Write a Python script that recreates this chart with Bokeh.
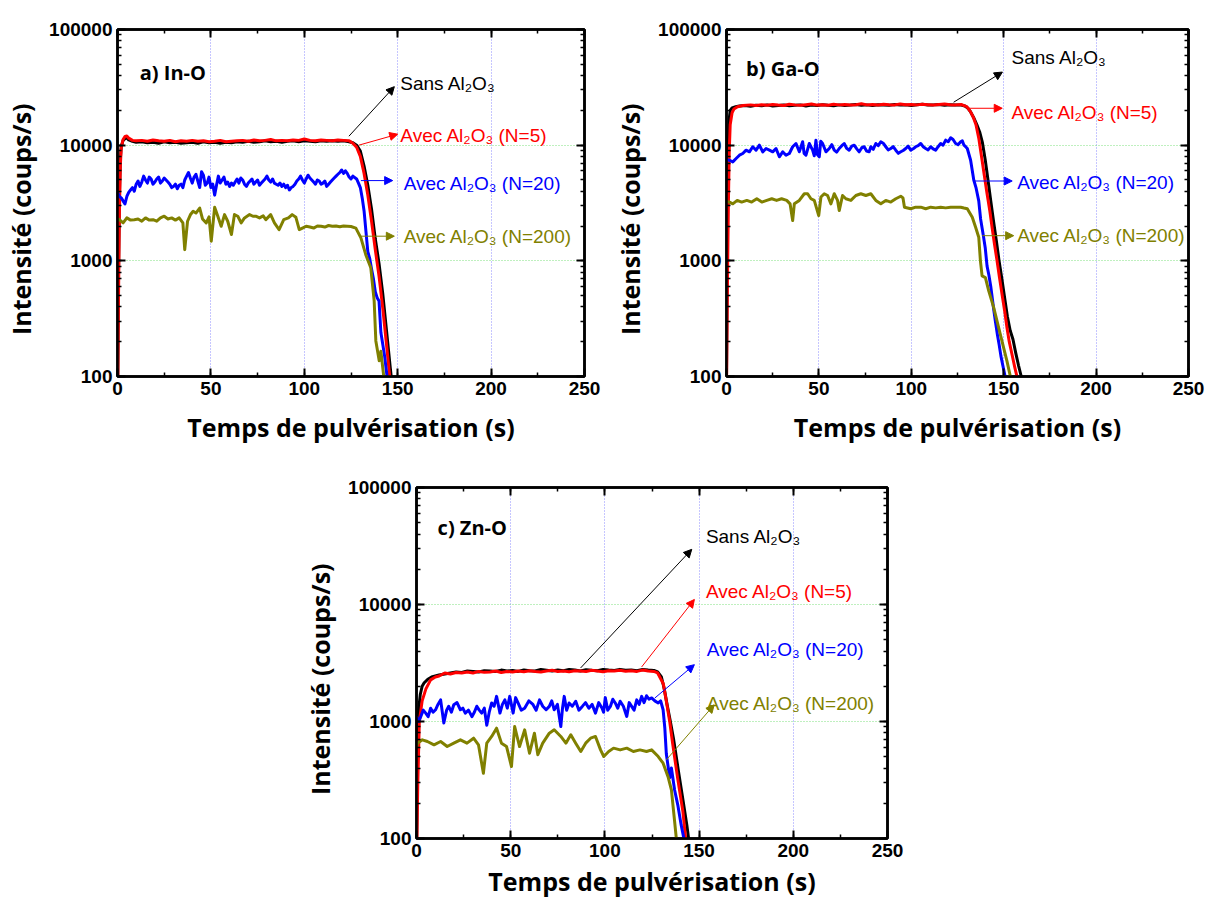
from bokeh.plotting import figure
from bokeh.models import (LogAxis, LinearAxis, SingleIntervalTicker, LogTicker, FixedTicker,
                          PrintfTickFormatter, Label, Arrow, NormalHead, Spacer)
from bokeh.layouts import column, row
from bokeh.embed import file_html
from bokeh.resources import INLINE

# ---------------- data : panel a) In-O ----------------
A_T_PLAT = [0, 0.5, 1, 1.5, 2, 3, 4, 5, 6, 8, 10,
            13, 16, 19, 22, 25, 28, 31, 34, 37, 40, 43, 46, 49, 52, 55, 58, 61, 64, 67, 70,
            73, 76, 79, 82, 85, 88, 91, 94, 97, 100, 103, 106, 109, 112, 115, 118, 121, 124,
            126, 128, 130, 132, 134, 136, 138, 140, 142, 144, 146, 148]
A_SANS = [40, 700, 3500, 7500, 9800, 11000, 11400, 11600, 11100, 10800, 10600,
          10700, 10500, 10600, 10400, 10700, 10500, 10600, 10400, 10500, 10600, 10400, 10700,
          10500, 10600, 10400, 10600, 10500, 10700, 10600, 10800, 10600, 10700, 10900, 10700,
          10800, 10600, 10800, 10900, 10700, 10900, 10800, 10700, 10900, 10800, 10900, 10800,
          10900, 10700,
          10500, 10000, 8900, 6600, 4500, 2800, 1550, 950, 520, 250, 120, 60]
A_N5 = [40, 400, 2500, 6500, 9500, 11200, 11900, 12000, 11500, 11000, 10900,
        11000, 10800, 11100, 10900, 10800, 11000, 10700, 10900, 10800, 11000, 10800, 10900,
        10700, 10800, 11000, 10700, 10800, 10900, 11000, 10800, 11100, 10900, 11000, 11200,
        10900, 11000, 10900, 11100, 11000, 11300, 11000, 10900, 11100, 11000, 10900, 11100,
        11000, 10900,
        10400, 9600, 8000, 5700, 3700, 2200, 1250, 740, 390, 190, 90, 45]
A_T_N20 = [0, 1, 2, 3, 4, 5, 6, 7, 8, 9, 10, 11, 12, 13, 14, 15, 16, 17, 18, 19, 20, 21, 22,
           23, 24, 25, 26, 27, 28, 29, 30, 31, 32, 33, 34, 35, 36, 37, 38, 39, 40, 41, 42, 43,
           44, 45, 46, 47, 48, 49, 50, 51, 52, 53, 54, 55, 56, 57, 58, 59, 60, 61, 62, 63, 64,
           65, 66, 67, 68, 69, 70, 71, 72, 73, 74, 75, 76, 77, 78, 79, 80, 81, 82, 83, 84, 85,
           86, 87, 88, 89, 90, 91, 92, 93, 94, 95, 96, 97, 98, 99, 100, 101, 102, 103, 104,
           105, 106, 107, 108, 109, 110, 111, 112, 113, 114, 115, 116, 117, 118, 119, 120, 121,
           122, 123, 124, 125, 126,
           128, 129, 130, 131, 132, 133, 134, 135, 136, 137, 138, 139, 140, 141, 142, 143, 144, 145]
A_N20 = [3900, 3600, 3500, 3300, 3100, 3600, 3900, 4100, 4300, 4000,
         4600, 4900, 4400, 4800, 5400, 5000, 4700, 5300, 5100, 4600,
         4800, 5100, 5300, 4700, 4900, 5200, 5000, 4800, 4600, 4300,
         4400, 4600, 4200, 4500, 4600, 4300, 5000, 5400, 5800, 5200,
         4700, 5300, 5600, 4900, 4300, 5900, 5500, 4500, 4700, 5300,
         4300, 4600, 3700, 4500, 5400, 4700, 5000, 5300, 4600, 4800,
         4400, 4700, 4500, 4800, 5100, 4700, 5200, 5000, 4600, 4400,
         4700, 4900, 5100, 4600, 4800, 5000, 4500, 4700, 4900, 5100,
         5400, 5000, 4800, 5100, 4700, 4600, 4500, 4700, 4400, 4600,
         4300, 4500, 4100, 4300, 4400, 4600, 4900, 5100, 5400, 5000,
         4700, 5100, 5500, 5200, 5000, 4800, 4600, 5000, 4900, 4600,
         4700, 4900, 4400, 4600, 4800, 5000, 5200, 5400, 5600, 5800,
         6100, 5700, 6000, 5700, 5300, 5100, 5400,
         5100, 4700, 4300, 3500, 2700, 1800, 1200, 1050, 850, 700, 540, 480, 450, 240, 190,
         150, 110, 80]
A_T_N200 = [0, 1, 3, 5, 7, 9, 11, 13, 15, 17, 19, 21, 23, 25, 27, 29, 31, 33, 35, 36,
            37.5, 39, 40.5, 42, 44, 45.5, 47.5, 49, 50.2, 52, 53.7, 55.5, 57.3, 59, 61, 62.6,
            64.4, 66.2, 68, 70.7, 72.5, 74, 76, 78, 79.4, 82, 84, 86.5, 89, 91.5, 93.5, 95.5,
            97.3, 99, 101, 103, 105, 107, 109, 111, 113, 115, 117, 119, 121, 123, 125, 127.6,
            130.3, 132.9, 135.6, 137.4, 138.3, 140.1, 141, 142.7]
A_N200 = [2300, 2270, 2130, 2350, 2250, 2270, 2300, 2200, 2350, 2250, 2270, 2200, 2350, 2430,
          2300, 2350, 2250, 2350, 2130, 1250, 2200, 2500, 2680, 2590, 2860, 2300, 2130, 2400,
          1480, 2900, 2430, 1990, 2510, 2200, 1690, 2510, 2430, 2130, 2350, 2510, 2430, 2430,
          2350, 2450, 2270, 2510, 2130, 1860, 2270, 2350, 2510, 2380, 1860, 1920, 1990, 1960,
          1920, 2000, 1990, 1960, 2020, 1990, 2000, 1970, 2000, 1990, 1980, 1920, 1580, 1130,
          870, 450, 203, 137, 165, 95]

# ---------------- data : panel b) Ga-O ----------------
B_T_SANS = [0, 0.5, 1, 1.5, 2, 3, 5, 7, 10,
            13, 16, 19, 22, 25, 28, 31, 34, 37, 40, 43, 46, 49, 52, 55, 58, 61, 64, 67, 70,
            73, 76, 79, 82, 85, 88, 91, 94, 97, 100, 103, 106, 109, 112, 115, 118, 121, 124, 127,
            129, 130.5, 132, 134, 135.5, 137, 138.5, 140, 141.5, 143, 144.5, 146, 147.5, 149,
            150.5, 152, 153.5, 155, 156.5, 158, 159.5, 160.5]
B_SANS = [90, 2500, 10000, 17000, 20000, 21000, 21500, 21800, 22000,
          21700, 22100, 21900, 22300, 21800, 22000, 22200, 21900, 22100, 22300, 21800, 22200,
          22000, 22400, 22100, 21900, 22300, 22000, 22200, 22500, 22100, 22300, 22000, 22400,
          22200, 22100, 22500, 22200, 22300, 22000, 22400, 22600, 22200, 22300, 22500, 22100,
          22400, 22300, 22200,
          21800, 21000, 19500, 17000, 15000, 13000, 10500, 7500, 5000, 3300, 2200, 1500, 1000,
          700, 480, 330, 250, 210, 160, 125, 100, 85]
B_T_N5 = [0, 0.5, 1, 1.5, 2, 3, 4, 6, 9,
          13, 16, 19, 22, 25, 28, 31, 34, 37, 40, 43, 46, 49, 52, 55, 58, 61, 64, 67, 70,
          73, 76, 79, 82, 85, 88, 91, 94, 97, 100, 103, 106, 109, 112, 115, 118, 121, 124, 127,
          128.5, 130, 132, 133.5, 135, 136.5, 138.3, 139.5, 141, 142.5, 143.7, 145, 146.4,
          147.7, 149.1, 150.5, 151.8, 153, 154.5, 156, 157.5]
B_N5 = [80, 600, 3000, 9000, 15000, 19000, 20500, 21500, 22000,
        22300, 22000, 22400, 22100, 22500, 22200, 22000, 22600, 22300, 22100, 22400, 22700,
        22200, 22400, 22100, 22600, 22300, 22500, 22200, 22400, 22800, 22300, 22500, 22200,
        22600, 22400, 22300, 22700, 22400, 22500, 22300, 22600, 22400, 22200, 22500, 22700,
        22400, 22300, 22500,
        22000, 21500, 19500, 17500, 15000, 11500, 7400, 5500, 3800, 2700, 1950, 1400, 1000,
        720, 513, 370, 263, 200, 155, 120, 95]
# (time s, counts/s) pairs for the noisy N=20 trace of panel b
B_N20_PTS = [(0, 7500), (1.6, 7410), (3.4, 7170), (5.2, 7660), (7, 8190), (8.8, 8470),
             (10.6, 9050), (12.4, 8760), (14.2, 9690), (16, 9050), (17.8, 10000), (19.6, 8760),
             (21.4, 9360), (23.2, 9050), (25, 8760), (26.8, 9360), (28.6, 7930), (30.4, 8760),
             (32.2, 8190), (34, 8470), (35.8, 9690), (37.6, 10340), (39.4, 8760), (41.2, 10700),
             (42, 8500), (43, 8190), (44.8, 10340), (46.6, 9050), (47.5, 8100), (48.4, 11050),
             (49.2, 8300), (50.2, 7930), (51, 10800), (52, 10340), (53.8, 8760), (55.6, 9360),
             (57, 10100), (58.3, 9050), (59.6, 8700), (61, 9360), (62.4, 9900), (63.7, 10340),
             (65, 9400), (66.4, 9050), (67.8, 9800), (69.1, 10000), (70.5, 9300), (71.8, 8760),
             (73.2, 9500), (74.5, 9690), (75.8, 8900), (77.2, 8760), (78.1, 9690), (79.4, 9200),
             (80.8, 10340), (82.1, 9900), (83.5, 10700), (84.8, 10400), (86.2, 9690),
             (87.5, 9100), (88.9, 9360), (90.2, 9700), (91.6, 9050), (93, 8500), (94.3, 8760),
             (95.6, 9000), (97, 9360), (98.3, 9800), (99.7, 9050), (101, 9300), (102.4, 9690),
             (103.7, 9900), (105.1, 10340), (106.4, 9700), (107.8, 9360), (109.1, 9100),
             (110.5, 9690), (111.8, 9300), (113.2, 9050), (114.5, 9700), (115.9, 10340),
             (117.2, 10000), (118.6, 11050), (120, 10700), (121.3, 11600), (122.6, 11200),
             (124, 10340), (125.3, 10100), (126.7, 10700), (127.6, 10900), (128.5, 10000),
             (129.4, 9700), (130.3, 9360), (132.1, 7410), (133.8, 5000), (135, 4300),
             (136.5, 3300), (137.5, 2300), (139, 1650), (140, 1300), (141, 900), (142, 750),
             (143, 600), (144.6, 380), (145.5, 300), (146.6, 230), (147.5, 190), (148.5, 150),
             (149.5, 125), (150.5, 105), (151.5, 85)]
B_T_N200 = [0, 1.6, 3.4, 5.8, 8.2, 11, 13.6, 16.4, 19.1, 21.8, 24.5, 27.1, 29.8, 32.6, 34.4,
            35.8, 36.7, 39.4, 42.1, 43.9, 45.7, 47.5, 49.9, 51.1, 52.9, 54.7, 56.5, 58.3, 60.1,
            61, 62.8, 64.6, 67.3, 70, 72.7, 75.4, 78.1, 80.8, 83.5, 86.2, 88.9, 91.6, 94.3,
            95.5, 96.3, 99.7, 102.4, 105.1, 107.8, 110.5, 113.2, 115.9, 118.6, 121.3, 124,
            126.7, 128.5, 130.3, 133, 134.8, 136.5, 137.4, 138.3, 140.1, 141.9, 144.6, 148.2,
            151.8, 153.6, 154.5]
B_N200 = [3250, 3220, 3110, 3330, 3220, 3330, 3220, 3440, 3220, 3330, 3440, 3330, 3440, 3330,
          3110, 2230, 3110, 3330, 3800, 3800, 3440, 3330, 2460, 3560, 3800, 3670, 3110, 3800,
          3330, 2720, 3670, 3440, 3330, 3670, 3800, 3670, 3800, 3330, 3110, 3330, 3220, 3440,
          3620, 3500, 2910, 2820, 2910, 2910, 2820, 2910, 2870, 2910, 2870, 2910, 2910, 2910,
          2860, 2820, 2380, 1950, 1600, 1000, 740, 716, 550, 394, 230, 135, 100, 85]

# ---------------- data : panel c) Zn-O ----------------
C_T_SANS = [0, 0.5, 1, 2, 3, 4, 6, 8, 10, 12,
            15, 18, 21, 24, 27, 30, 33, 36, 39, 42, 45, 48, 51, 54, 57, 60, 63, 66, 69, 72, 75,
            78, 81, 84, 87, 90, 93, 96, 99, 102, 105, 108, 111, 114, 117, 120, 123, 126,
            128, 130, 131.5, 133, 134.5, 136.5, 139, 141.5, 143.5, 145]
C_SANS = [60, 500, 1200, 1700, 2000, 2130, 2300, 2400, 2450, 2500,
          2550, 2600, 2650, 2620, 2700, 2680, 2650, 2720, 2700, 2680, 2750, 2700, 2730, 2680,
          2760, 2720, 2700, 2780, 2740, 2700, 2760, 2720, 2780, 2750, 2700, 2770, 2740, 2720,
          2780, 2750, 2730, 2790, 2740, 2760, 2720, 2780, 2750, 2730,
          2650, 2400, 1900, 1400, 1050, 700, 380, 210, 130, 85]
C_T_N5 = [0, 0.7, 1.5, 3, 5, 7.5, 10, 12,
          15, 18, 21, 24, 27, 30, 33, 36, 39, 42, 45, 48, 51, 54, 57, 60, 63, 66, 69, 72, 75,
          78, 81, 84, 87, 90, 93, 96, 99, 102, 105, 108, 111, 114, 117, 120, 123, 126,
          128, 131, 132.6, 134.4, 136, 138.7, 141.4, 143]
C_N5 = [60, 300, 1000, 1500, 1900, 2270, 2400, 2450,
        2600, 2550, 2620, 2600, 2650, 2600, 2680, 2630, 2650, 2700, 2620, 2680, 2650, 2700,
        2660, 2720, 2680, 2650, 2700, 2740, 2680, 2700, 2660, 2720, 2700, 2680, 2740, 2700,
        2660, 2720, 2700, 2740, 2690, 2720, 2680, 2750, 2700, 2680,
        2600, 2100, 1500, 1000, 640, 320, 170, 95]
# (time s, counts/s) pairs for the noisy N=20 trace of panel c
C_N20_PTS = [(0, 1100), (1.2, 1000), (2.3, 1105), (3.6, 1250), (4.9, 1180), (6.2, 1100),
             (7.5, 1300), (8.8, 1200), (10.1, 1260), (11.4, 1400), (12.8, 1530), (14.5, 970),
             (16, 1250), (17.1, 1350), (18.5, 1200), (19.8, 1390), (21.5, 1450), (23.3, 1260),
             (24.6, 1300), (25.9, 1180), (27.6, 1250), (29.4, 1100), (30.7, 1200), (32, 1350),
             (33.3, 1250), (34.6, 1180), (36, 1300), (37.3, 930), (38.6, 1200), (39.9, 1440),
             (41.2, 1350), (42.5, 1640), (44.3, 1180), (45.6, 1400), (46.9, 1530), (48.2, 1300),
             (49.5, 1640), (51.3, 1180), (52.6, 1600), (53.9, 1440), (55.6, 1250), (57.4, 1300),
             (59.6, 1500), (61.8, 1400), (63.5, 1250), (65.3, 1530), (67, 1350), (68.8, 1260),
             (70.5, 1346), (71.8, 1500), (73.1, 1260), (74.8, 1400), (76.6, 906), (77.5, 1300),
             (78.4, 1640), (79.7, 1250), (81, 1440), (82.7, 1350), (84.5, 1490), (86.2, 1250),
             (88, 1346), (89.7, 1450), (91.5, 1300), (93.2, 1400), (95, 1180), (96.7, 1450),
             (98.5, 1300), (99.3, 1200), (100.2, 1600), (101.5, 1250), (102.9, 1346),
             (104.2, 1550), (105.5, 1440), (106.8, 1300), (108.1, 1490), (109.8, 1350),
             (111.6, 1105), (112.9, 1450), (114.2, 1346), (115.5, 1250), (116.9, 1530),
             (118.2, 1400), (119.5, 1640), (120.8, 1450), (122.1, 1660), (123.4, 1550),
             (124.8, 1590), (126.5, 1500), (128.3, 1440), (129.6, 1500), (130.9, 1260),
             (131.8, 880), (132.6, 530), (134.4, 330), (135.3, 400), (137, 260), (138.7, 193),
             (140.5, 130), (142.2, 95)]
C_T_N200 = [0, 0.5, 3.1, 5.8, 9.3, 12.8, 16.3, 19.8, 23.3, 26.8, 30.3, 32.9, 35.5, 37.3, 39.9,
            42.5, 45.1, 47.8, 50.4, 52.1, 54.7, 57.4, 60, 62.6, 64.4, 67, 70.5, 73.1, 76.6,
            79.3, 81.9, 84.5, 87.2, 89.8, 92.4, 95, 97.7, 99.4, 102, 104.6, 108.1, 111.6, 115.1,
            118.6, 122.1, 124.8, 128.3, 130.9, 133.5, 135.3, 137, 138.2]
C_N200 = [600, 653, 697, 675, 632, 675, 611, 653, 697, 653, 720, 632, 361, 653, 745, 877, 653,
          611, 412, 906, 611, 849, 536, 795, 520, 653, 795, 849, 745, 653, 770, 653, 554, 653,
          720, 745, 572, 502, 554, 592, 572, 592, 554, 572, 554, 572, 502, 440, 338, 260, 140, 90]

# annotation labels / arrows (label pos, arrow start, arrow end) per series
SERIES_NAMES = ["Sans Al\u2082O\u2083", "Avec Al\u2082O\u2083 (N=5)",
                "Avec Al\u2082O\u2083 (N=20)", "Avec Al\u2082O\u2083 (N=200)"]
COLORS = ["#000000", "#ff0000", "#0000ff", "#808000"]

A_NOTES = [((151.4, 34200), (123.9, 11960), (148.2, 32060)),
           ((151.4, 12020), (129.2, 10000), (150.0, 12440)),
           ((153.2, 4700), (130.3, 4940), (147.3, 4940)),
           ((153.2, 1633), (129.4, 1633), (148.2, 1633))]
B_NOTES = [((154.2, 56750), (122.9, 23500), (149.3, 42850)),
           ((154.2, 19230), (130.3, 20840), (149.2, 20840)),
           ((157.3, 4740), (133.8, 4900), (154.6, 4900)),
           ((157.3, 1640), (138.4, 1650), (155.4, 1650))]
C_NOTES = [((153.6, 38430), (87.1, 2868), (146.1, 29600)),
           ((153.6, 13000), (119.5, 2925), (147.5, 11040)),
           ((154.1, 4110), (126.5, 1587), (147.5, 3060)),
           ((154.1, 1439), (132.6, 470), (158.0, 1390))]

X_TITLE = "Temps de pulvérisation (s)"
Y_TITLE = "Intensité (coups/s)"
Y_TITLE_PAD = "\u00a0" * 5   # the reference title sits a little below the axis centre


def style_axis(ax, show_labels):
    ax.axis_line_width = 2.5
    ax.axis_line_color = "black"
    ax.major_tick_in = 8
    ax.major_tick_out = 0
    ax.minor_tick_in = 4
    ax.minor_tick_out = 0
    ax.major_tick_line_width = 2
    ax.minor_tick_line_width = 1.5
    ax.major_tick_line_color = "black"
    ax.minor_tick_line_color = "black"
    if show_labels:
        ax.major_label_text_font = "Liberation Sans"
        ax.major_label_text_font_style = "bold"
        ax.major_label_text_font_size = "19px"
        ax.major_label_text_color = "black"
        ax.major_label_standoff = 5
    else:
        ax.major_label_text_color = None
        ax.major_label_text_font_size = "1px"
        ax.major_label_standoff = 0


def make_panel(width, height, mbl, mbr, mbt, mbb, series, notes, tag, tag_xy, title_standoff):
    p = figure(width=width, height=height, x_range=(0, 250), y_range=(100, 100000),
               y_axis_type="log", output_backend="svg", toolbar_location=None,
               min_border_left=mbl, min_border_right=mbr, min_border_top=mbt,
               min_border_bottom=mbb, background_fill_color="white",
               border_fill_color="white")
    p.outline_line_color = "black"
    p.outline_line_width = 2.5

    xb = p.below[0]
    xb.ticker = SingleIntervalTicker(interval=50, num_minor_ticks=2)
    style_axis(xb, True)
    yl = p.left[0]
    yl.ticker = LogTicker(mantissas=[1], num_minor_ticks=10)
    yl.formatter = PrintfTickFormatter(format="%d")
    style_axis(yl, True)

    top = LinearAxis(ticker=SingleIntervalTicker(interval=50, num_minor_ticks=2))
    style_axis(top, False)
    p.add_layout(top, "above")
    right = LogAxis(ticker=LogTicker(mantissas=[1], num_minor_ticks=10))
    style_axis(right, False)
    p.add_layout(right, "right")

    for ax in (xb, yl):
        ax.axis_label_text_font = "Open Sans"
        ax.axis_label_text_font_style = "bold"
        ax.axis_label_text_font_size = "25px"
        ax.axis_label_text_color = "black"
    yl.axis_label_standoff = 8
    xb.axis_label_standoff = title_standoff
    yl.axis_label = Y_TITLE + Y_TITLE_PAD
    xb.axis_label = X_TITLE

    p.xgrid.ticker = FixedTicker(ticks=[50, 100, 150, 200])
    p.xgrid.grid_line_color = "#8c8cff"
    p.xgrid.grid_line_dash = "1 2"
    p.xgrid.grid_line_width = 1
    p.ygrid.ticker = FixedTicker(ticks=[1000, 10000])
    p.ygrid.grid_line_color = "#7ee07e"
    p.ygrid.grid_line_dash = "1 2"
    p.ygrid.grid_line_width = 1

    for (t, v), c in zip(series, COLORS):
        p.line(list(t), list(v), line_color=c, line_width=3, line_join="round")

    for name, c, (lab, start, end) in zip(SERIES_NAMES, COLORS, notes):
        p.add_layout(Arrow(end=NormalHead(size=8, fill_color=c, line_color=c, line_width=1),
                           x_start=start[0], y_start=start[1], x_end=end[0], y_end=end[1],
                           line_color=c, line_width=1))
        p.add_layout(Label(x=lab[0], y=lab[1], text=name, text_color=c,
                           text_font="Liberation Sans", text_font_size="19px",
                           text_baseline="middle", text_align="left"))

    p.add_layout(Label(x=tag_xy[0], y=tag_xy[1], text=tag, text_font="Open Sans",
                       text_font_style="bold", text_font_size="20px",
                       text_baseline="middle", text_align="left", text_color="black"))
    return p


B_T_N20, B_N20 = zip(*B_N20_PTS)
C_T_N20, C_N20 = zip(*C_N20_PTS)

pa = make_panel(610, 449, 117, 26, 29, 73,
                [(A_T_PLAT, A_SANS), (A_T_PLAT, A_N5), (A_T_N20, A_N20), (A_T_N200, A_N200)],
                A_NOTES, "a) In-O", (11.9, 42200), 12)
pb = make_panel(596, 449, 115, 18, 29, 73,
                [(B_T_SANS, B_SANS), (B_T_N5, B_N5), (B_T_N20, B_N20), (B_T_N200, B_N200)],
                B_NOTES, "b) Ga-O", (10.6, 46000), 12)
pc = make_panel(612, 454, 116, 25, 38, 65,
                [(C_T_SANS, C_SANS), (C_T_N5, C_N5), (C_T_N20, C_N20), (C_T_N200, C_N200)],
                C_NOTES, "c) Zn-O", (11.2, 45300), 4)

layout = column(row(pa, pb), row(Spacer(width=300, height=454), pc))

with open("out.html", "w") as f:
    f.write(file_html(layout, INLINE))
